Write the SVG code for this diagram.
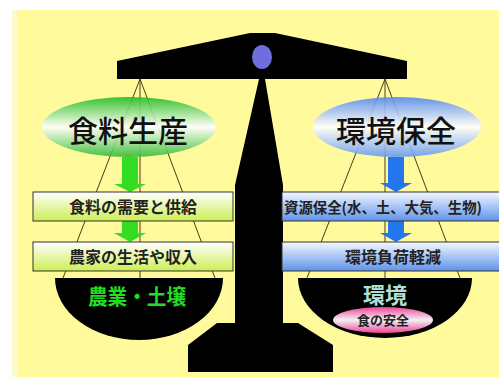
<svg xmlns="http://www.w3.org/2000/svg" width="499" height="380" viewBox="0 0 499 380">
<defs>
<linearGradient id="gEll" x1="0" y1="0" x2="0" y2="1">
<stop offset="0" stop-color="#22bb22"/><stop offset="0.5" stop-color="#ffffff"/><stop offset="1" stop-color="#33bb33"/>
</linearGradient>
<linearGradient id="bEll" x1="0" y1="0" x2="0" y2="1">
<stop offset="0" stop-color="#5588ee"/><stop offset="0.5" stop-color="#ffffff"/><stop offset="1" stop-color="#6699ee"/>
</linearGradient>
<linearGradient id="gBox" x1="0" y1="0" x2="0" y2="1">
<stop offset="0" stop-color="#ffffff"/><stop offset="1" stop-color="#ccee55"/>
</linearGradient>
<linearGradient id="bBox" x1="0" y1="0" x2="0" y2="1">
<stop offset="0" stop-color="#f4f8ff"/><stop offset="1" stop-color="#5f93ea"/>
</linearGradient>
<linearGradient id="pEll" x1="0" y1="0" x2="0" y2="1">
<stop offset="0" stop-color="#ee4499"/><stop offset="0.5" stop-color="#f2f2f2"/><stop offset="1" stop-color="#ee4499"/>
</linearGradient>
<style>
.str{stroke:#4a3c1c;stroke-width:1;fill:none}
.blk{fill:#000}
.box{stroke:#333;stroke-width:1}
.t{font-family:"Noto Sans CJK JP","Noto Sans CJK SC",sans-serif;text-anchor:middle}
.bt{font-size:16px;font-weight:700;fill:#222}
.title{font-size:30px;font-weight:500;fill:#111}
</style>
</defs>
<rect x="0" y="0" width="499" height="380" fill="#ffffff"/>
<rect x="12" y="10" width="487" height="367" fill="#fffb9c"/>
<rect x="12" y="10" width="5" height="367" fill="#fdfbcc"/>

<g id="connectors">
<path class="str" d="M140,79 L63,278 M140,79 L140,278 M140,79 L215,278"/>
<path class="str" d="M385,79 L307,278 M385,79 L385,278 M385,79 L460,278"/>
</g>

<g id="scale">
<polygon class="blk" points="117,61 250,33 275,33 407,61 407,79 117,79"/>
<ellipse cx="262" cy="57" rx="10" ry="12" fill="#6e6edd"/>
<polygon class="blk" points="259,79 265,79 283,185 283,323 298,323 333,345 333,372 188,372 188,345 217,323 235,323 235,185"/>
</g>

<g id="pan-left">
<path class="blk" d="M55,278 A84,62 0 0 0 223,278 Z"/>
<text class="t" x="137" y="304" font-size="21" font-weight="700" fill="#22dd22" textLength="98" lengthAdjust="spacingAndGlyphs">農業・土壌</text>
</g>

<g id="pan-right">
<path class="blk" d="M298,278 A87,60 0 0 0 472,278 Z"/>
<text class="t" x="385" y="303" font-size="22" font-weight="700" fill="#aee0d6">環境</text>
<ellipse cx="383" cy="320" rx="50" ry="13" fill="url(#pEll)"/>
<text class="t" x="383" y="325" font-size="13" font-weight="700" fill="#222">食の安全</text>
</g>

<g id="node-food">
<ellipse cx="129" cy="127" rx="87" ry="30" fill="url(#gEll)" fill-opacity="0.9"/>
<text class="t title" x="128" y="142">食料生産</text>
</g>

<g id="node-env">
<ellipse cx="397" cy="127" rx="84" ry="30" fill="url(#bEll)" fill-opacity="0.9"/>
<text class="t title" x="396" y="142">環境保全</text>
</g>

<g id="arrows">
<polygon fill="#33dd22" points="122,157 138,157 138,184 146,184 130,192 114,184 122,184"/>
<polygon fill="#33dd22" points="122,221 138,221 138,233 146,233 130,242 114,233 122,233"/>
<polygon fill="#2277ee" points="388,157 404,157 404,183 412,183 396,192 380,183 388,183"/>
<polygon fill="#2277ee" points="388,221 404,221 404,233 412,233 396,242 380,233 388,233"/>
</g>

<g id="box-supply">
<rect class="box" x="33" y="192" width="200" height="29" fill="url(#gBox)"/>
<text class="t bt" x="133" y="213">食料の需要と供給</text>
</g>
<g id="box-farm">
<rect class="box" x="33" y="242" width="200" height="29" fill="url(#gBox)"/>
<text class="t bt" x="133" y="263">農家の生活や収入</text>
</g>
<g id="box-resource">
<rect class="box" x="282" y="192" width="230" height="29" fill="url(#bBox)"/>
<text x="284" y="212.5" font-family="Noto Sans CJK JP, Noto Sans CJK SC, sans-serif" font-size="14.4" font-weight="700" fill="#222">資源保全(水、土、大気、生物)</text>
</g>
<g id="box-load">
<rect class="box" x="282" y="242" width="230" height="29" fill="url(#bBox)"/>
<text class="t bt" x="393" y="263">環境負荷軽減</text>
</g>
</svg>
